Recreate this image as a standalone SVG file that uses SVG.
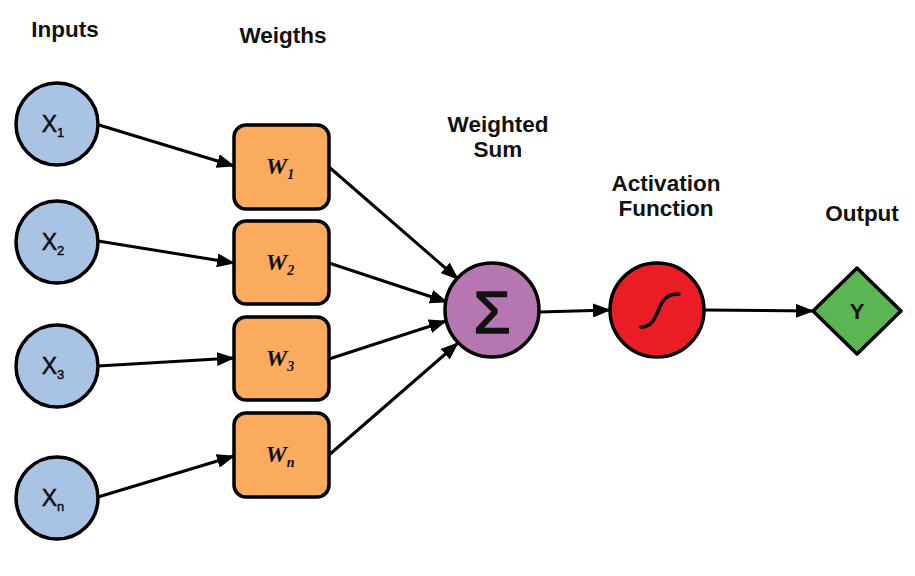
<svg xmlns="http://www.w3.org/2000/svg" width="915" height="576" viewBox="0 0 915 576">
<defs>
<marker id="ah" markerWidth="18" markerHeight="14" refX="17" refY="7" orient="auto" markerUnits="userSpaceOnUse" viewBox="0 0 18 14">
<path d="M0,0 L18,7 L0,14 z" fill="#000"/>
</marker>
<style>
.lbl{font-family:"Liberation Sans",Arial,sans-serif;font-weight:bold;font-size:22.5px;fill:#111;text-anchor:middle}
.in{fill:#a8c3e3;stroke:#000;stroke-width:3.5}
.w{fill:#fbab5e;stroke:#000;stroke-width:3.5}
.xt{font-family:"Liberation Sans",Arial,sans-serif;font-size:23px;fill:#111;stroke:#111;stroke-width:0.5;text-anchor:middle}
.wt{font-family:"Liberation Serif","Times New Roman",serif;font-style:italic;font-weight:bold;font-size:24px;fill:#111;text-anchor:middle}
.c{stroke:#000;stroke-width:3;fill:none;marker-end:url(#ah)}
</style>
</defs>
<rect width="915" height="576" fill="#fff"/>
<text class="lbl" x="65" y="37">Inputs</text>
<text class="lbl" x="283" y="43">Weigths</text>
<text class="lbl" x="498" y="132">Weighted</text>
<text class="lbl" x="498" y="157">Sum</text>
<text class="lbl" x="666" y="191">Activation</text>
<text class="lbl" x="666" y="216">Function</text>
<text class="lbl" x="862" y="221">Output</text>
<g id="connectors">
<line class="c" x1="99" y1="125" x2="234" y2="166"/>
<line class="c" x1="98" y1="241" x2="234" y2="263"/>
<line class="c" x1="98" y1="366" x2="234" y2="358"/>
<line class="c" x1="98" y1="497" x2="234" y2="456"/>
<line class="c" x1="329" y1="167" x2="458" y2="279"/>
<line class="c" x1="329" y1="263" x2="447" y2="302"/>
<line class="c" x1="329" y1="359" x2="446" y2="321"/>
<line class="c" x1="329" y1="455" x2="458" y2="343"/>
<line class="c" x1="540" y1="312" x2="610" y2="310"/>
<line class="c" x1="705" y1="310" x2="813" y2="311"/>
</g>
<g id="x1"><circle class="in" cx="57" cy="124" r="41"/><text class="xt" x="53" y="132">X<tspan font-size="13" dy="5">1</tspan></text></g>
<g id="x2"><circle class="in" cx="57" cy="242" r="41"/><text class="xt" x="53" y="250">X<tspan font-size="13" dy="5">2</tspan></text></g>
<g id="x3"><circle class="in" cx="57" cy="366" r="41"/><text class="xt" x="53" y="374">X<tspan font-size="13" dy="5">3</tspan></text></g>
<g id="xn"><circle class="in" cx="57" cy="498" r="41"/><text class="xt" x="53" y="506">X<tspan font-size="13" dy="5">n</tspan></text></g>
<g id="w1"><rect class="w" x="234" y="125" width="95" height="84" rx="12"/><text class="wt" x="280" y="174">W<tspan font-size="14" dy="5">1</tspan></text></g>
<g id="w2"><rect class="w" x="234" y="221" width="95" height="83" rx="12"/><text class="wt" x="280" y="270">W<tspan font-size="14" dy="5">2</tspan></text></g>
<g id="w3"><rect class="w" x="234" y="317" width="95" height="83" rx="12"/><text class="wt" x="280" y="366">W<tspan font-size="14" dy="5">3</tspan></text></g>
<g id="wn"><rect class="w" x="234" y="413" width="95" height="84" rx="12"/><text class="wt" x="280" y="462">W<tspan font-size="14" dy="5">n</tspan></text></g>
<g id="sum"><circle cx="492" cy="310" r="47" fill="#b676b1" stroke="#000" stroke-width="3.5"/><text x="492" y="333" font-family="Liberation Sans,Arial,sans-serif" font-size="60" fill="#111" stroke="#111" stroke-width="1.5" text-anchor="middle">Σ</text></g>
<g id="act"><circle cx="657" cy="310" r="47" fill="#ea1d25" stroke="#000" stroke-width="3.5"/><path d="M641,327 C652,327 655,318 659,309 C663,299 667,294 679,294" fill="none" stroke="#000" stroke-width="3.5" stroke-linecap="round"/></g>
<g id="out"><polygon points="857,268 901,311 857,354 813,311" fill="#5ab552" stroke="#000" stroke-width="3.5" stroke-linejoin="round"/><text x="857" y="319" font-family="Liberation Sans,Arial,sans-serif" font-weight="bold" font-size="22" fill="#111" text-anchor="middle">Y</text></g>
</svg>
